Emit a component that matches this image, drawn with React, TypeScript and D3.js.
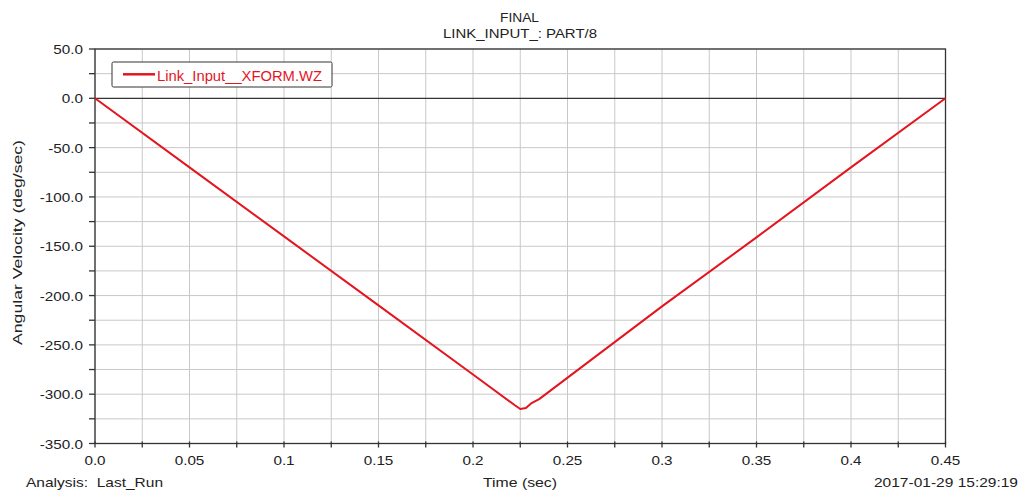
import React from "react";
import * as d3 from "d3";

const xTicks = [0, 0.05, 0.1, 0.15, 0.2, 0.25, 0.3, 0.35, 0.4, 0.45];
const xTickLabels = ["0.0", "0.05", "0.1", "0.15", "0.2", "0.25", "0.3", "0.35", "0.4", "0.45"];
const yTicks = [50, 0, -50, -100, -150, -200, -250, -300, -350];
const yTickLabels = ["50.0", "0.0", "-50.0", "-100.0", "-150.0", "-200.0", "-250.0", "-300.0", "-350.0"];
const timeValues = [0, 0.05, 0.1, 0.15, 0.2, 0.222, 0.225, 0.228, 0.231, 0.235, 0.3, 0.35, 0.4, 0.45];
const velocityValues = [0, -70, -140, -210, -280, -311, -315, -314, -309, -305, -211, -141, -70, 0];

const W = 1021, H = 493;
const L = 95, R = 945.5, T = 49, B = 443.5;

export default function App() {
  const x = d3.scaleLinear().domain([0, 0.45]).range([L, R]);
  const y = d3.scaleLinear().domain([-350, 50]).range([B, T]);
  const minorX = d3.range(0, 0.4501, 0.025);
  const minorY = d3.range(-350, 50.1, 25);
  const pts = timeValues.map((t, i) => [t, velocityValues[i]] as [number, number]);
  const line = d3.line<[number, number]>().x(d => x(d[0])).y(d => y(d[1]));
  const font = "'Liberation Sans', Arial, sans-serif";
  const stretch = 1.13;
  return (
    <svg width={W} height={H} style={{ position: "absolute", left: 0, top: 0, background: "#fff" }} fontFamily={font}>
      <text x={519.5} y={21.5} fontSize={13.5} textAnchor="middle" fill="#222" textLength={39} lengthAdjust="spacingAndGlyphs">FINAL</text>
      <text x={520} y={38} fontSize={13.5} textAnchor="middle" fill="#222" textLength={154} lengthAdjust="spacingAndGlyphs">LINK_INPUT_: PART/8</text>
      {minorX.map((t, i) => (
        <line key={"gx" + i} x1={x(t)} x2={x(t)} y1={T} y2={B} stroke="#c8c8c8" strokeWidth={1} />
      ))}
      {minorY.map((v, i) => (
        <line key={"gy" + i} x1={L} x2={R} y1={y(v)} y2={y(v)} stroke="#c8c8c8" strokeWidth={1} />
      ))}
      <line x1={L} x2={R} y1={y(0)} y2={y(0)} stroke="#111" strokeWidth={1} />
      <rect x={L} y={T} width={R - L} height={B - T} fill="none" stroke="#333" strokeWidth={1.3} />
      {minorY.map((v, i) => (
        <line key={"ty" + i} x1={L - 6} x2={L} y1={y(v)} y2={y(v)} stroke="#333" strokeWidth={1.3} />
      ))}
      {minorX.map((t, i) => (
        <line key={"tx" + i} x1={x(t)} x2={x(t)} y1={B - 2} y2={B + 4} stroke="#333" strokeWidth={1.3} />
      ))}
      {yTicks.map((v, i) => (
        <g key={"yl" + i} transform={`translate(${L - 12},${y(v) + 5}) scale(${stretch},1)`}>
          <text x={0} y={0} fontSize={13.5} textAnchor="end" fill="#222">{yTickLabels[i]}</text>
        </g>
      ))}
      {xTicks.map((t, i) => (
        <g key={"xl" + i} transform={`translate(${x(t)},${B + 21}) scale(${stretch},1)`}>
          <text x={0} y={0} fontSize={13.5} textAnchor="middle" fill="#222">{xTickLabels[i]}</text>
        </g>
      ))}
      <path d={line(pts) || ""} fill="none" stroke="#e3161f" strokeWidth={2} strokeLinejoin="round" />
      <rect x={112} y={62} width={220} height={25} rx={1.5} fill="#fff" stroke="#333" strokeWidth={1} />
      <line x1={123} x2={155} y1={74.3} y2={74.3} stroke="#e3161f" strokeWidth={2.5} />
      <text x={157} y={80.5} fontSize={15} fill="#e3161f" textLength={165} lengthAdjust="spacingAndGlyphs">Link_Input__XFORM.WZ</text>
      <text x={0} y={0} fontSize={13.5} textAnchor="middle" fill="#222" transform="translate(21.5,242.5) rotate(-90)" textLength={205} lengthAdjust="spacingAndGlyphs">Angular Velocity (deg/sec)</text>
      <text x={520} y={487} fontSize={13.5} textAnchor="middle" fill="#222" textLength={74} lengthAdjust="spacingAndGlyphs">Time (sec)</text>
      <text x={26} y={487} fontSize={13.5} fill="#222" xmlSpace="preserve" textLength={137} lengthAdjust="spacingAndGlyphs">Analysis:  Last_Run</text>
      <text x={1018} y={487} fontSize={13.5} textAnchor="end" fill="#222" textLength={144} lengthAdjust="spacingAndGlyphs">2017-01-29 15:29:19</text>
    </svg>
  );
}
